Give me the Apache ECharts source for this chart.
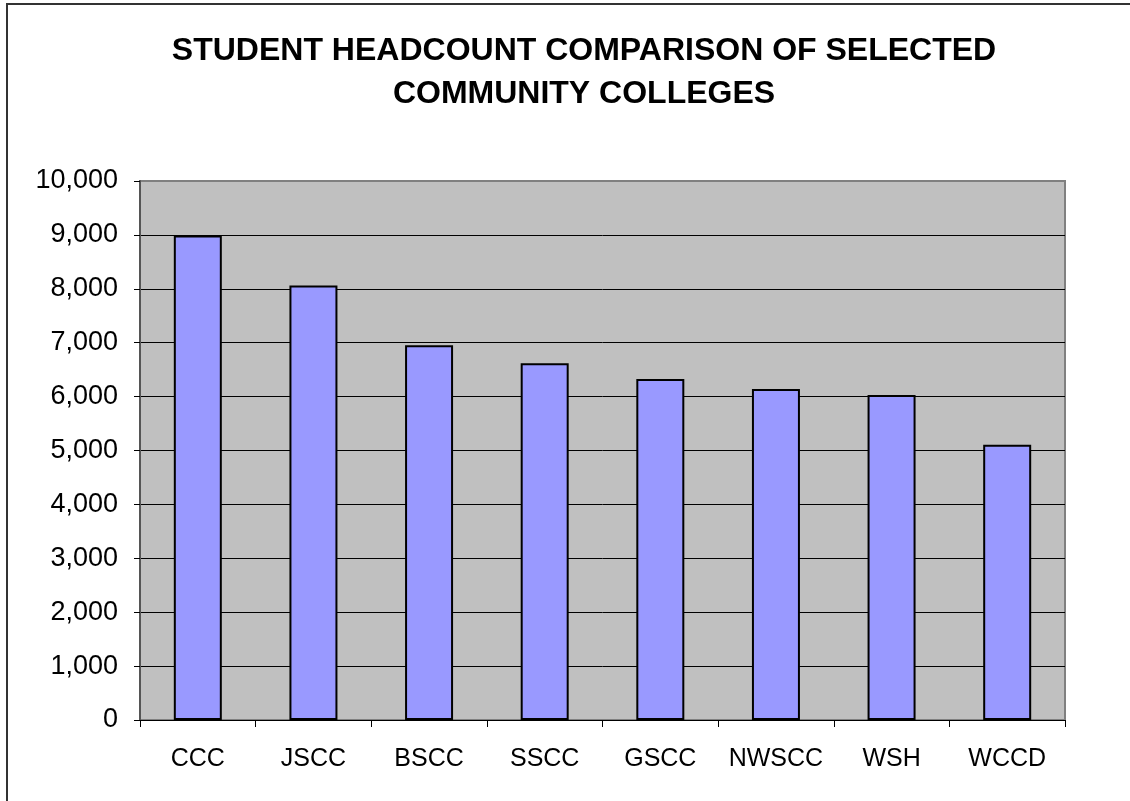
<!DOCTYPE html>
<html>
<head>
<meta charset="utf-8">
<title>Student Headcount Comparison</title>
<script src="https://cdn.jsdelivr.net/npm/echarts@6/dist/echarts.min.js"></script>
<style>
  html, body { margin: 0; padding: 0; background: #ffffff; }
  #chart { width: 1130px; height: 801px; }
</style>
</head>
<body>
<div id="chart"></div>
<script>
  // 数据
  const colleges = ['CCC', 'JSCC', 'BSCC', 'SSCC', 'GSCC', 'NWSCC', 'WSH', 'WCCD']
  const headcounts = [8990, 8060, 6955, 6620, 6325, 6140, 6030, 5105]
  const titleLines = ['STUDENT HEADCOUNT COMPARISON OF SELECTED', 'COMMUNITY COLLEGES']

  const chart = echarts.init(document.getElementById('chart'))

  // gridline colours, the last one (10,000) matches the gray plot border
  const gridColors = ['#000', '#000', '#000', '#000', '#000', '#000', '#000', '#000', '#000', '#000', '#808080']

  chart.setOption({
    animation: false,
    textStyle: { fontFamily: 'Liberation Sans, Arial, sans-serif' },
    title: {
      text: titleLines.join('\n'),
      left: 579,
      textAlign: 'center',
      top: 25,
      textStyle: {
        fontSize: 32,
        fontWeight: 'bold',
        color: '#000',
        lineHeight: 43,
        fontFamily: 'Liberation Sans, Arial, sans-serif'
      }
    },
    graphic: [
      {
        // outer frame (only left/top edges fall inside the picture)
        type: 'rect',
        shape: { x: 7, y: 4, width: 1200, height: 900 },
        style: { fill: null, stroke: '#333', lineWidth: 2 },
        silent: true
      }
    ],
    grid: {
      left: 140,
      right: 65,
      top: 181,
      bottom: 81,
      show: true,
      backgroundColor: '#c0c0c0',
      borderColor: '#808080',
      borderWidth: 2
    },
    xAxis: {
      type: 'category',
      data: colleges,
      axisLine: { lineStyle: { color: '#000', width: 1 } },
      axisTick: { show: true, interval: 0, length: 7, lineStyle: { color: '#000' } },
      axisLabel: { interval: 0, fontSize: 25, color: '#000', margin: 27 }
    },
    yAxis: {
      type: 'value',
      min: 0,
      max: 10000,
      interval: 1000,
      axisLine: { show: true, lineStyle: { color: '#555', width: 2 } },
      axisTick: { show: true, length: 6, lineStyle: { color: '#000' } },
      axisLabel: {
        fontSize: 27,
        color: '#000',
        margin: 22,
        formatter: (v) => v.toLocaleString('en-US')
      },
      splitLine: { show: true, lineStyle: { color: gridColors, width: 1 } }
    },
    series: [
      {
        type: 'bar',
        data: headcounts,
        barWidth: 48,
        itemStyle: {
          color: '#9999ff',
          borderColor: '#000',
          borderWidth: 2
        }
      }
    ]
  })
</script>
</body>
</html>
